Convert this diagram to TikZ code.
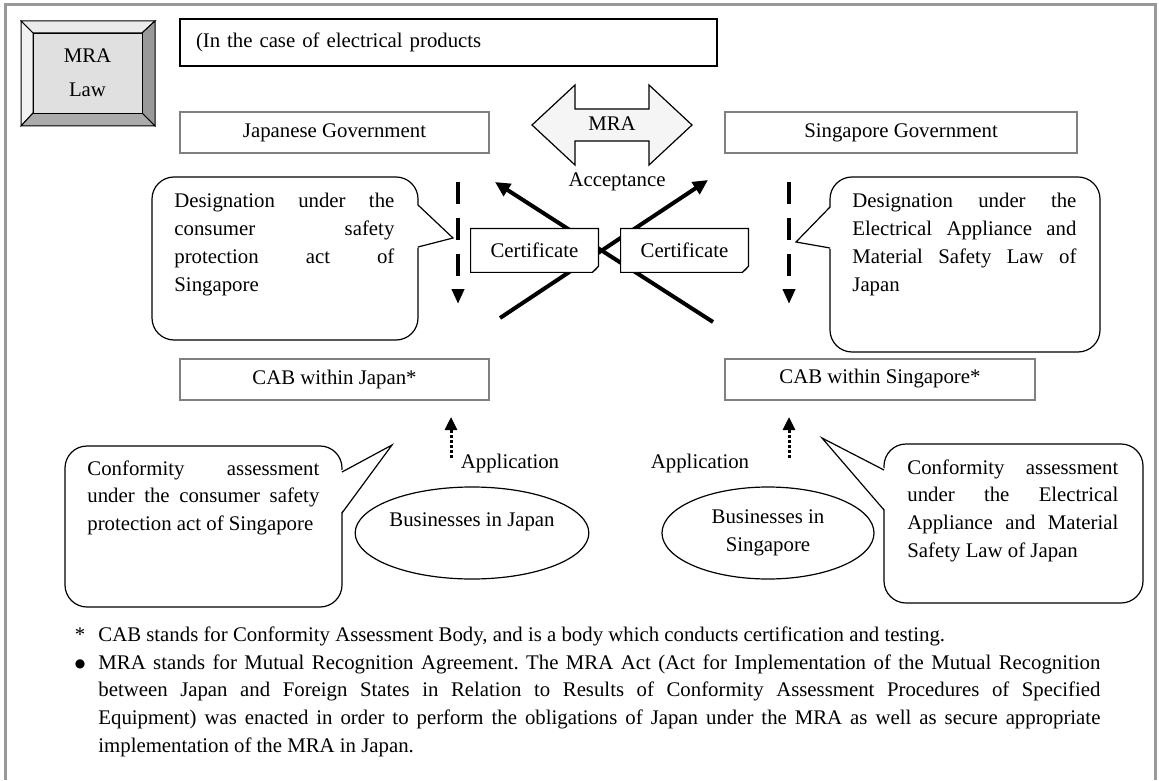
\documentclass[tikz,border=0pt]{standalone}
\usepackage{fontspec}
\setmainfont{Liberation Serif}
\newfontfamily\symfont{DejaVu Sans}
\usetikzlibrary{arrows.meta}
\usetikzlibrary{shapes.geometric}

\begin{document}
\frenchspacing
\begin{tikzpicture}[x=0.5pt, y=-0.5pt,
    font=\fontsize{10.4}{13.85}\selectfont,
    govbox/.style={shape=rectangle, draw=black!50, line width=1pt,
      minimum height=20.5pt, inner sep=0pt},
    certbox/.style={shape=rectangle, fill=white, minimum width=63.5pt,
      minimum height=21.5pt, inner sep=0pt},
    bizell/.style={shape=ellipse, draw, line width=0.6pt,
      minimum height=46pt, inner sep=0pt, align=center},
    calltext/.style={anchor=base west, inner sep=0pt, align=justify},
    callbox/.style={shape=rectangle, draw, line width=0.6pt,
      rounded corners=11pt, inner sep=0pt},
    certarrow/.style={line width=2pt, -{Triangle[length=7.5pt,width=7pt]}},
    desarrow/.style={line width=2pt, dash pattern=on 11pt off 7pt,
      -{Triangle[length=7.5pt,width=6pt]}},
    apparrow/.style={line width=1.5pt, dash pattern=on 1.5pt off 1pt,
      -{Triangle[length=6.5pt,width=6pt]}}]
    \useasboundingbox (0,0) rectangle (1159,780);

    \draw[black!40, line width=1.5pt] (5,780) -- (5,5) -- (1155,5) -- (1155,780);

    \filldraw[fill=black!8, line width=0.5pt] (21,21) -- (155,21) -- (142,33) -- (33,33) -- cycle;
    \filldraw[fill=black!5, line width=0.5pt] (21,21) -- (33,33) -- (33,113) -- (21,126) -- cycle;
    \filldraw[fill=black!40, line width=0.5pt] (155,21) -- (155,126) -- (142,113) -- (142,33) -- cycle;
    \filldraw[fill=black!33, line width=0.5pt] (21,126) -- (155,126) -- (142,113) -- (33,113) -- cycle;
    \node[name=mralaw,
      shape=rectangle,
      draw,
      fill=black!12,
      minimum width=54.5pt,
      minimum height=40pt,
      inner sep=0pt,
      align=center] at (87.5,73) {MRA\\[3pt]Law};

    \node[name=header,
      shape=rectangle,
      draw,
      line width=0.6pt,
      minimum height=23.5pt,
      text width=252.5pt,
      inner xsep=8pt,
      inner ysep=0pt,
      align=left] at (448.5,42.5) {(In the case of electrical products};

    \node[name=jgov, govbox, minimum width=154.5pt] at (334.5,132.5) {Japanese Government};
    \node[name=sgov, govbox, minimum width=176pt] at (901,132.5) {Singapore Government};
    \node[name=jcab, govbox, minimum width=154.5pt] at (334.5,379) {CAB within Japan*};
    \node[name=scab, govbox, minimum width=155pt] at (880,379) {CAB within Singapore*};

    \filldraw[fill=black!4, line width=0.6pt] (532,125) -- (575,85) -- (575,109) -- (649,109)
      -- (649,85) -- (692,125) -- (649,165) -- (649,141) -- (575,141) -- (575,165) -- cycle;
    \node[name=mra] at (612,124) {MRA};
    \node[name=accept] at (617,182) {Acceptance};

    \coordinate (jcert) at (495,182);
    \coordinate (scert) at (708,180);
    \coordinate (sstart) at (713,322);
    \coordinate (jstart) at (500,318);
    \path (sstart) edge[certarrow] (jcert);
    \path (jstart) edge[certarrow] (scert);

    \node[name=certl, certbox] at (534.5,250.5) {Certificate};
    \node[name=certr, certbox] at (684.5,250.5) {Certificate};
    \draw[line width=0.6pt] (certl.north west) -- (certl.north east) -- ([yshift=3pt]certl.south east)
      -- ([xshift=-3pt]certl.south east) -- (certl.south west) -- cycle;
    \fill ([yshift=3pt]certl.south east) -- ([xshift=-1.2pt,yshift=1.2pt]certl.south east)
      -- ([xshift=-3pt]certl.south east) -- cycle;
    \draw[line width=0.6pt] (certr.north west) -- (certr.north east) -- ([yshift=3pt]certr.south east)
      -- ([xshift=-3pt]certr.south east) -- (certr.south west) -- cycle;
    \fill ([yshift=3pt]certr.south east) -- ([xshift=-1.2pt,yshift=1.2pt]certr.south east)
      -- ([xshift=-3pt]certr.south east) -- cycle;

    \coordinate (jdtop) at (458,182);
    \coordinate (jdbot) at (458,304);
    \coordinate (sdtop) at (789,182);
    \coordinate (sdbot) at (789,304);
    \path (jdtop) edge[desarrow] (jdbot);
    \path (sdtop) edge[desarrow] (sdbot);

    \node[name=jdesbox, callbox, minimum width=133pt, minimum height=81.5pt] at (285,258.5) {};
    \fill[white] (416,204) -- (453,238) -- (416,248) -- cycle;
    \draw[line width=0.6pt] (418,205) -- (453,238) -- (418,247);
    \node[name=jdes, calltext, text width=110pt] at (174,208)
      {Designation under the\linebreak consumer safety\linebreak protection act of\linebreak Singapore};

    \node[name=sdesbox, callbox, minimum width=135pt, minimum height=87.5pt] at (965,264.5) {};
    \fill[white] (832,206) -- (796,242) -- (832,249) -- cycle;
    \draw[line width=0.6pt] (830,207) -- (796,242) -- (830,248);
    \node[name=sdes, calltext, text width=112pt] at (852,208)
      {Designation under the\linebreak Electrical Appliance and\linebreak Material Safety Law of\linebreak Japan};

    \coordinate (jappfrom) at (451,458);
    \coordinate (jappto) at (451,417);
    \coordinate (sappfrom) at (789,458);
    \coordinate (sappto) at (789,417);
    \path (jappfrom) edge[apparrow] (jappto);
    \path (sappfrom) edge[apparrow] (sappto);
    \node[name=japp] at (510,463) {Application};
    \node[name=sapp] at (700,463) {Application};

    \node[name=bizj, bizell, minimum width=115pt] at (472,533) {Businesses in Japan\\ \mbox{}};
    \node[name=bizs, bizell, minimum width=106pt] at (768,533) {Businesses in\\Singapore};

    \node[name=jconfbox, callbox, minimum width=138.5pt, minimum height=80.5pt] at (203.5,526.5) {};
    \fill[white] (340,471) -- (392,445) -- (340,514) -- cycle;
    \draw[line width=0.6pt] (342,472) -- (392,445) -- (342,513);
    \node[name=jconf, calltext, text width=116pt] at (87,475)
      {Conformity assessment\linebreak under the consumer safety\linebreak protection act of Singapore};

    \node[name=sconfbox, callbox, minimum width=129.5pt, minimum height=79.5pt] at (1013.5,523.5) {};
    \fill[white] (886,469) -- (822,438) -- (886,511) -- cycle;
    \draw[line width=0.6pt] (884,470) -- (822,438) -- (884,510);
    \node[name=sconf, calltext, text width=105.5pt] at (907,474)
      {Conformity assessment\linebreak under the Electrical\linebreak Appliance and Material\linebreak Safety Law of Japan};

    \node[name=star, anchor=base, inner sep=0pt] at (80,641) {*};
    \node[name=note1, anchor=base west, inner sep=0pt] at (98,641)
      {CAB stands for Conformity Assessment Body, and is a body which conducts certification and testing.};
    \node[name=dot, inner sep=0pt] at (80,664) {\symfont\fontsize{6}{7}\selectfont ●};
    \node[name=note2, calltext, text width=501pt] at (98,669)
      {MRA stands for Mutual Recognition Agreement. The MRA Act (Act for Implementation of the Mutual Recognition\linebreak
      between Japan and Foreign States in Relation to Results of Conformity Assessment Procedures of Specified\linebreak
      Equipment) was enacted in order to perform the obligations of Japan under the MRA as well as secure appropriate\linebreak
      implementation of the MRA in Japan.};

  \end{tikzpicture}
\end{document}
